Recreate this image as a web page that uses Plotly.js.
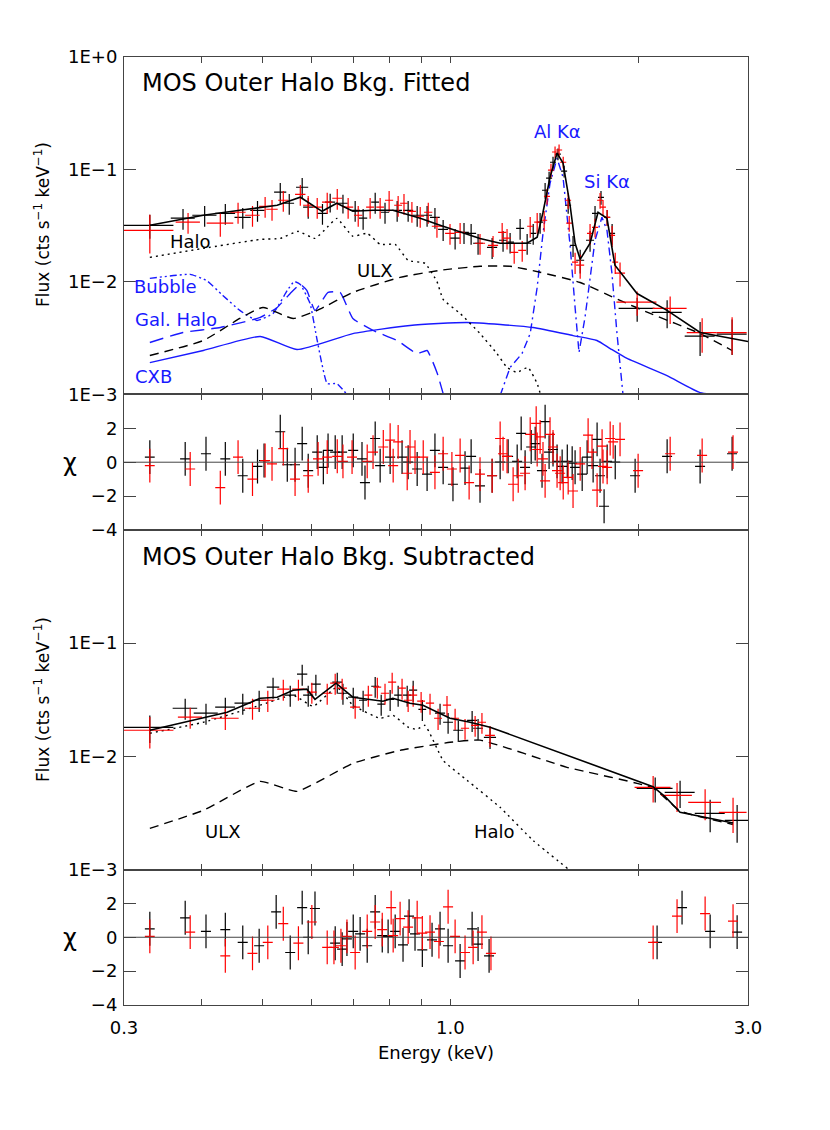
<!DOCTYPE html>
<html><head><meta charset="utf-8">
<script src="https://cdn.plot.ly/plotly-3.0.1.min.js"></script>
<style>body{margin:0;background:#fff}#chart{width:830px;height:1130px}</style>
</head><body><div id="chart"></div>
<script>
// ===== Panel 1: background fitted spectrum (energy keV, flux cts/s/keV) =====
const m1E   = [0.330,0.402,0.460,0.496,0.528,0.575,0.623,0.658,0.698,0.752,0.809,0.862,0.895,0.963,1.037,1.116,1.202,1.327,1.378,1.408,1.445,1.483,1.516,1.556,1.585,1.615,1.675,1.725,1.783,1.836,1.992,2.225,2.514,2.828,3.0];
const m1Tot = [0.0319,0.0392,0.0434,0.0461,0.0481,0.0567,0.0425,0.0501,0.0425,0.0434,0.0434,0.0392,0.0368,0.0319,0.0277,0.0244,0.0221,0.0221,0.0250,0.0417,0.0853,0.140,0.114,0.0481,0.0221,0.0159,0.0221,0.0417,0.0368,0.0141,0.0079,0.00559,0.00356,0.00315,0.00296];
const halo1E = [0.330,0.402,0.496,0.534,0.570,0.607,0.635,0.658,0.698,0.736,0.772,0.816,0.856,0.911,0.952,0.974,1.037,1.116,1.188,1.233,1.279,1.332,1.378,1.398];
const halo1F = [0.01656,0.0199,0.0239,0.0244,0.0282,0.0244,0.0306,0.0368,0.0255,0.0271,0.0216,0.0216,0.01556,0.01465,0.0101,0.0070,0.00525,0.00348,0.00231,0.00174,0.00157,0.00174,0.00125,0.00096];
const ulx1E = [0.330,0.402,0.460,0.501,0.560,0.612,0.698,0.831,0.963,1.116,1.247,1.393,1.615,1.871,2.091,2.514,2.828];
const ulx1F = [0.00222,0.00302,0.00474,0.00594,0.00474,0.00559,0.00808,0.0110,0.0127,0.0138,0.0138,0.0122,0.0099,0.00686,0.00525,0.00348,0.00246];
const cxbE = [0.330,0.402,0.496,0.568,0.698,0.862,1.064,1.357,1.573,1.718,1.804,1.920,2.225,2.514,2.808];
const cxbF = [0.00192,0.00246,0.00328,0.00251,0.00348,0.00411,0.00437,0.00394,0.00334,0.00302,0.00256,0.00209,0.00147,0.00104,0.00098];
const galE = [0.330,0.373,0.428,0.496,0.528,0.554,0.575,0.589,0.607,0.637,0.666,0.698,0.752,0.822,0.884,0.918,0.952,0.977];
const galF = [0.00290,0.00356,0.00394,0.00484,0.00594,0.00791,0.00952,0.00841,0.00559,0.00808,0.00808,0.00474,0.00371,0.00302,0.00231,0.00246,0.00157,0.00096];
const bubE = [0.330,0.383,0.407,0.432,0.460,0.490,0.520,0.548,0.562,0.575,0.596,0.612,0.635,0.658,0.683];
const bubF = [0.01076,0.01169,0.0103,0.0076,0.00559,0.00455,0.00525,0.00841,0.0101,0.00952,0.00645,0.00302,0.00125,0.00125,0.00100];
const lineE = [1.202,1.247,1.303,1.343,1.378,1.408,1.445,1.483,1.516,1.556,1.585,1.608,1.644,1.675,1.706,1.750,1.783,1.816,1.850,1.892];
const lineF = [0.00098,0.00174,0.00231,0.00348,0.00895,0.0271,0.0755,0.126,0.0853,0.0212,0.00594,0.00236,0.00484,0.0103,0.0235,0.0376,0.0288,0.0119,0.00348,0.00098];

// MOS1 (black) data, panel 1
const b1E    = [0.330,0.373,0.404,0.436,0.465,0.491,0.534,0.552,0.579,0.592,0.624,0.642,0.673,0.704,0.725,0.758,0.786,0.822,0.856,0.885,0.918,0.945,0.974,1.018,1.052,1.080,1.108,1.167,1.215,1.247,1.294,1.328,1.358,1.393,1.419,1.440,1.461,1.488,1.522,1.545,1.573,1.615,1.675,1.706,1.744,1.784,1.817,1.993,2.226,2.514,2.829];
const b1EErr = [0.030,0.0165,0.018,0.016,0.014,0.013,0.012,0.010,0.013,0.011,0.012,0.012,0.012,0.013,0.011,0.011,0.012,0.015,0.016,0.016,0.017,0.017,0.018,0.019,0.019,0.020,0.020,0.022,0.018,0.018,0.019,0.020,0.015,0.015,0.016,0.016,0.016,0.016,0.017,0.017,0.017,0.024,0.025,0.019,0.019,0.020,0.020,0.132,0.123,0.139,0.156];
const b1F    = [0.0319,0.0369,0.0392,0.0408,0.0376,0.0434,0.0628,0.0501,0.0695,0.0462,0.0408,0.0512,0.0501,0.0434,0.0369,0.0512,0.0417,0.0434,0.0434,0.0392,0.0392,0.0376,0.0294,0.0245,0.0276,0.0271,0.0221,0.0203,0.0235,0.0226,0.0300,0.0221,0.0271,0.0340,0.0654,0.0837,0.116,0.137,0.0966,0.0481,0.0212,0.0156,0.0235,0.0408,0.0566,0.0376,0.0271,0.00583,0.00537,0.0033,0.00344];
const b1FErr = [0.0077,0.0077,0.0082,0.0086,0.0079,0.0091,0.0132,0.0105,0.0146,0.0097,0.0086,0.0097,0.0095,0.0091,0.0077,0.0108,0.0088,0.0091,0.0091,0.0082,0.0082,0.0079,0.0062,0.0051,0.0058,0.0057,0.0046,0.0043,0.0049,0.0047,0.0063,0.0046,0.0057,0.0071,0.0105,0.0117,0.0139,0.0164,0.0116,0.0077,0.0045,0.0037,0.0049,0.0065,0.0079,0.0060,0.0057,0.0014,0.0015,0.0011,0.0012];
// MOS2 (red) data, panel 1
const r1E    = [0.330,0.380,0.428,0.457,0.482,0.505,0.518,0.540,0.575,0.592,0.612,0.635,0.659,0.686,0.712,0.744,0.772,0.798,0.825,0.843,0.868,0.895,0.922,0.952,0.999,1.037,1.116,1.171,1.211,1.233,1.266,1.304,1.343,1.378,1.414,1.429,1.450,1.472,1.494,1.517,1.545,1.551,1.585,1.615,1.675,1.706,1.738,1.757,1.784,1.817,1.838,1.871,1.993,2.251,2.533,2.829];
const r1EErr = [0.030,0.017,0.021,0.013,0.013,0.011,0.011,0.010,0.011,0.011,0.011,0.012,0.012,0.013,0.011,0.011,0.011,0.012,0.012,0.012,0.013,0.013,0.014,0.018,0.018,0.019,0.021,0.022,0.018,0.018,0.019,0.019,0.015,0.015,0.016,0.016,0.016,0.016,0.017,0.017,0.017,0.017,0.018,0.024,0.019,0.019,0.019,0.019,0.020,0.020,0.020,0.035,0.147,0.141,0.140,0.156];
const r1F    = [0.0288,0.0340,0.0333,0.0417,0.0392,0.0471,0.0443,0.0533,0.0602,0.0481,0.0462,0.0512,0.0555,0.0462,0.0392,0.0462,0.0462,0.0533,0.0481,0.0501,0.0425,0.0384,0.0417,0.0313,0.0271,0.0276,0.0221,0.0212,0.0276,0.0245,0.0183,0.0191,0.0313,0.0340,0.0354,0.0578,0.0986,0.143,0.149,0.116,0.0533,0.0333,0.0150,0.0141,0.0271,0.0306,0.0533,0.0462,0.0376,0.0260,0.0150,0.0120,0.00662,0.00583,0.00355,0.00355];
const r1FErr = [0.0109,0.0071,0.0080,0.0088,0.0082,0.0099,0.0093,0.0112,0.0126,0.0101,0.0097,0.0108,0.0117,0.0097,0.0082,0.0097,0.0097,0.0112,0.0101,0.0105,0.0089,0.0081,0.0088,0.0066,0.0057,0.0058,0.0046,0.0045,0.0058,0.0051,0.0038,0.0040,0.0066,0.0071,0.0074,0.0092,0.0138,0.0172,0.0179,0.0139,0.0085,0.0053,0.0032,0.0034,0.0057,0.0058,0.0085,0.0074,0.0060,0.0055,0.0032,0.0029,0.0016,0.0016,0.0012,0.0013];

// ===== Panel 2: residuals (chi) =====
const c2bE   = [0.330,0.376,0.406,0.436,0.465,0.491,0.503,0.534,0.548,0.564,0.579,0.592,0.612,0.626,0.637,0.654,0.671,0.699,0.722,0.730,0.758,0.772,0.801,0.837,0.856,0.885,0.918,0.945,0.974,1.010,1.056,1.080,1.116,1.167,1.202,1.238,1.280,1.299,1.318,1.348,1.368,1.403,1.419,1.440,1.461,1.483,1.511,1.540,1.568,1.585,1.627,1.657,1.694,1.719,1.738,1.764,1.784,1.838,1.978,2.226,2.514,2.829];
const c2bEErr= [0.006,0.007,0.0075,0.008,0.0086,0.009,0.0093,0.0099,0.010,0.0104,0.0107,0.011,0.0113,0.0116,0.0118,0.0121,0.0124,0.0129,0.0134,0.0135,0.014,0.0143,0.0148,0.0155,0.0158,0.0164,0.017,0.0175,0.018,0.0187,0.0195,0.020,0.0206,0.0216,0.0222,0.0229,0.0237,0.024,0.0244,0.0249,0.0253,0.026,0.0263,0.0266,0.027,0.0274,0.028,0.0285,0.029,0.0293,0.0301,0.0307,0.0313,0.0318,0.0322,0.0326,0.033,0.034,0.0366,0.0412,0.0465,0.0523];
const c2b    = [0.3,0.2,0.5,0.2,-0.8,-0.25,0.1,1.8,-0.15,-0.15,1.1,-0.5,0.6,-0.3,0.7,0.6,0.6,0.7,0.2,-1.2,1.4,-0.2,0.3,0.3,0,-0.4,-0.7,0.7,-0.3,-1.3,-0.35,0.35,-1.4,-0.8,0,0.35,0.05,1.7,-0.3,0.9,1.1,-0.5,2.4,0.6,0.75,0.05,-0.25,0.05,-0.05,-0.3,-0.7,0.3,-0.2,1.35,-0.8,-2.6,0.05,0,-0.8,0.35,-0.25,0.5];
const c2rE   = [0.330,0.383,0.428,0.457,0.482,0.505,0.518,0.540,0.564,0.592,0.614,0.635,0.659,0.673,0.696,0.736,0.752,0.781,0.801,0.810,0.825,0.853,0.862,0.878,0.905,0.945,0.974,1.006,1.037,1.072,1.116,1.167,1.202,1.215,1.233,1.261,1.285,1.318,1.343,1.373,1.378,1.393,1.408,1.419,1.445,1.461,1.483,1.500,1.517,1.545,1.573,1.615,1.663,1.687,1.719,1.751,1.757,1.784,1.804,1.824,1.871,2.000,2.251,2.533,2.839];
const c2rEErr= [0.006,0.0071,0.0079,0.0085,0.0089,0.0093,0.0096,0.010,0.0104,0.011,0.0114,0.0117,0.0122,0.0125,0.0129,0.0136,0.0139,0.0144,0.0148,0.015,0.0153,0.0158,0.0159,0.0162,0.0167,0.0175,0.018,0.0186,0.0192,0.0198,0.0206,0.0216,0.0222,0.0225,0.0228,0.0233,0.0238,0.0244,0.0248,0.0254,0.0255,0.0258,0.026,0.0263,0.0267,0.027,0.0274,0.0278,0.0281,0.0286,0.0291,0.0299,0.0308,0.0312,0.0318,0.0324,0.0325,0.033,0.0334,0.0337,0.0346,0.037,0.0416,0.0469,0.0525];
const c2r    = [-0.2,-0.4,-1.5,0.3,-1.0,0.1,-0.1,0.8,-1.0,-0.8,0.2,0.3,0.35,0.05,0.3,0.05,0.6,0.9,1.3,-0.2,1.2,-0.65,0.9,0.3,0.3,-0.6,0.5,-0.4,0.4,-1.2,-0.7,-0.8,1.4,0.5,0.35,-1.3,-0.8,-0.65,1.65,2.3,0.75,1.5,0.2,-1.1,1.65,0.9,-0.5,-0.65,-1.2,-0.9,-1.7,-0.1,1.6,0.6,-1.65,0.95,-0.25,-0.3,1.4,1.2,1.35,-0.5,0.5,0.4,0.6];

// ===== Panel 3: background subtracted spectrum =====
const m3E   = [0.330,0.402,0.439,0.496,0.528,0.560,0.589,0.607,0.656,0.698,0.780,0.809,0.862,0.904,0.952,0.999,1.076,1.158,2.113,2.209,2.335,2.839];
const m3Tot = [0.0170,0.0221,0.0245,0.0326,0.0333,0.0384,0.0392,0.0319,0.0443,0.0333,0.0307,0.0326,0.0294,0.0283,0.0245,0.0217,0.0200,0.0181,0.00540,0.00440,0.00320,0.00258];
const halo3E = [0.330,0.402,0.496,0.560,0.603,0.658,0.698,0.772,0.809,0.856,0.884,0.911,0.974,1.064,1.202,1.357,1.556];
const halo3F = [0.0160,0.0200,0.0283,0.0347,0.0277,0.0408,0.0283,0.0217,0.0231,0.0181,0.0173,0.0188,0.00922,0.00614,0.00354,0.00181,0.00098];
const ulx3E = [0.330,0.402,0.496,0.568,0.698,0.831,0.999,1.116,1.538,2.113,2.335,2.839];
const ulx3F = [0.00231,0.00333,0.00601,0.00490,0.00867,0.0113,0.0133,0.0139,0.0080,0.00525,0.00330,0.00250];
const b3E    = [0.330,0.376,0.406,0.436,0.465,0.494,0.520,0.554,0.579,0.592,0.609,0.659,0.673,0.699,0.725,0.758,0.775,0.801,0.825,0.853,0.872,0.902,0.963,0.992,1.030,1.084,1.108,1.158,2.130,2.335,2.609,2.882];
const b3EErr = [0.030,0.017,0.018,0.016,0.014,0.013,0.012,0.012,0.011,0.011,0.011,0.012,0.012,0.013,0.011,0.011,0.011,0.012,0.012,0.013,0.013,0.013,0.018,0.018,0.019,0.020,0.020,0.026,0.141,0.129,0.144,0.128];
const b3F    = [0.0180,0.0266,0.0241,0.0272,0.0295,0.0313,0.0408,0.0347,0.0532,0.0347,0.0434,0.0452,0.0361,0.0333,0.0313,0.0416,0.0289,0.0319,0.0347,0.0347,0.0384,0.0260,0.0241,0.0200,0.0170,0.0208,0.0177,0.0147,0.00521,0.00480,0.00313,0.00272];
const b3FErr = [0.0049,0.0056,0.0051,0.0057,0.0062,0.0066,0.0086,0.0073,0.0112,0.0073,0.0091,0.0095,0.0076,0.0070,0.0066,0.0087,0.0061,0.0067,0.0073,0.0073,0.0081,0.0055,0.0051,0.0042,0.0036,0.0044,0.0037,0.0031,0.0013,0.0013,0.0010,0.0010];
const r3E    = [0.330,0.383,0.436,0.482,0.510,0.540,0.571,0.600,0.635,0.654,0.671,0.704,0.739,0.764,0.786,0.807,0.837,0.856,0.872,0.898,0.928,0.956,0.988,1.018,1.056,1.096,1.124,1.158,2.114,2.309,2.561,2.839];
const r3EErr = [0.030,0.017,0.022,0.014,0.013,0.012,0.013,0.011,0.012,0.012,0.012,0.013,0.011,0.011,0.012,0.012,0.012,0.013,0.013,0.013,0.014,0.014,0.015,0.015,0.016,0.016,0.017,0.021,0.14,0.13,0.155,0.145];
const r3F    = [0.0170,0.0222,0.0217,0.0266,0.0313,0.0392,0.0392,0.0369,0.0361,0.0443,0.0400,0.0272,0.0347,0.0408,0.0361,0.0452,0.0400,0.0313,0.0347,0.0307,0.0295,0.0217,0.0283,0.0217,0.0177,0.0188,0.0200,0.0153,0.00532,0.00452,0.00392,0.00320];
const r3FErr = [0.0053,0.0047,0.0046,0.0056,0.0066,0.0082,0.0082,0.0077,0.0076,0.0093,0.0084,0.0057,0.0073,0.0086,0.0076,0.0095,0.0084,0.0066,0.0073,0.0064,0.0062,0.0046,0.0059,0.0046,0.0037,0.0039,0.0042,0.0032,0.0014,0.0013,0.0012,0.0011];

// ===== Panel 4: residuals (chi) =====
const c4bE   = [0.330,0.376,0.406,0.436,0.465,0.494,0.526,0.554,0.579,0.592,0.607,0.654,0.671,0.683,0.699,0.717,0.736,0.758,0.778,0.795,0.816,0.840,0.859,0.878,0.902,0.935,0.963,0.992,1.037,1.084,1.108,1.154,2.145,2.352,2.609,2.882];
const c4bEErr= [0.006,0.007,0.0075,0.008,0.0086,0.0091,0.0097,0.0102,0.0107,0.011,0.0112,0.0121,0.0124,0.0126,0.0129,0.0133,0.0136,0.014,0.0144,0.0147,0.0151,0.0155,0.0159,0.0162,0.0167,0.0173,0.0178,0.0184,0.0192,0.0201,0.0205,0.0213,0.0397,0.0435,0.0483,0.0533];
const c4b    = [0.5,1.15,0.35,0.45,-0.3,-0.5,1.5,-0.9,1.75,0,1.7,-0.35,-0.7,-0.1,0.35,0.2,-0.5,1.5,0.1,0.05,0.35,-0.45,1.25,0.2,-0.75,-0.15,0.5,-0.5,-1.4,0.5,-0.4,-1.1,-0.3,1.75,0.35,0.3];
const c4rE   = [0.330,0.383,0.436,0.482,0.510,0.540,0.571,0.600,0.635,0.651,0.668,0.683,0.704,0.736,0.758,0.778,0.804,0.810,0.831,0.856,0.885,0.902,0.928,0.959,0.992,1.018,1.056,1.088,1.124,1.162,2.114,2.309,2.561,2.839];
const c4rEErr= [0.006,0.0071,0.008,0.0089,0.0094,0.010,0.0106,0.0111,0.0117,0.012,0.0124,0.0126,0.013,0.0136,0.014,0.0144,0.0149,0.015,0.0154,0.0158,0.0164,0.0167,0.0172,0.0177,0.0184,0.0188,0.0195,0.0201,0.0208,0.0215,0.0391,0.0427,0.0474,0.0525];
const c4r    = [0.05,0.3,-1.1,-0.95,-0.3,0.8,-0.35,0.9,-0.6,-0.6,-0.5,0.05,-0.9,0.35,0.9,0.45,1.75,0.1,1.1,0.6,1.15,0.25,0.3,-0.25,1.8,0.05,-0.9,-0.6,0.3,-0.95,-0.3,1.25,1.4,0.95];

// Axis ticks / labels
const xMajorVals = [0.3,1,3];
const xMajorText = ['0.3','1.0','3.0'];
const xMinorVals = [0.4,0.5,0.6,0.7,0.8,0.9,2];
const logTickVals1 = [0.001,0.01,0.1,1];
const logTickText1 = ['1E\u22123','1E\u22122','1E\u22121','1E+0'];
const logTickVals3 = [0.001,0.01,0.1];
const logTickText3 = ['1E\u22123','1E\u22122','1E\u22121'];
const chiTickVals = [-4,-2,0,2];
const chiTickText = ['\u22124','\u22122','0','2'];

// ===== styling / helpers =====
const BLUE = 'rgb(25,25,255)';
const RED = 'rgb(255,0,0)';
const FONT = 'DejaVu Sans, Liberation Sans, sans-serif';
function line(x, y, color, dash, w, xa, ya, smooth) {
  const ln = {color, dash, width:w};
  if (smooth) { ln.shape = 'spline'; ln.smoothing = smooth; }
  return {x, y, type:'scatter', mode:'lines', line:ln, xaxis:xa, yaxis:ya, hoverinfo:'skip', showlegend:false};
}
function cross(x, xe, y, ye, color, xa, ya) {
  return {x, y, type:'scatter', mode:'markers', marker:{size:1, color:'rgba(0,0,0,0)'},
    error_x:{type:'data', array:xe, color, thickness:1.2, width:0},
    error_y: ye ? {type:'data', array:ye, color, thickness:1.2, width:0} : {type:'constant', value:1, color, thickness:1.2, width:0},
    xaxis:xa, yaxis:ya, hoverinfo:'skip', showlegend:false};
}

const traces = [
  // panel 1 components
  line(cxbE, cxbF, BLUE, 'solid', 1.4, 'x', 'y', 0.5),
  line(galE, galF, BLUE, '14px,7px', 1.4, 'x', 'y', 0.4),
  line(bubE, bubF, BLUE, '7px,3px,2px,3px,2px,3px', 1.4, 'x', 'y', 0.4),
  line(lineE, lineF, BLUE, '8px,4px,2px,4px', 1.4, 'x', 'y'),
  line(halo1E, halo1F, 'black', '2px,4px', 1.4, 'x', 'y', 0.4),
  line(ulx1E, ulx1F, 'black', '9px,6px', 1.4, 'x', 'y', 0.5),
  cross(b1E, b1EErr, b1F, b1FErr, 'black', 'x', 'y'),
  cross(r1E, r1EErr, r1F, r1FErr, RED, 'x', 'y'),
  line(m1E, m1Tot, 'black', 'solid', 1.6, 'x', 'y'),
  // panel 2
  cross(c2bE, c2bEErr, c2b, null, 'black', 'x2', 'y2'),
  cross(c2rE, c2rEErr, c2r, null, RED, 'x2', 'y2'),
  // panel 3
  line(halo3E, halo3F, 'black', '2px,4px', 1.4, 'x3', 'y3', 0.4),
  line(ulx3E, ulx3F, 'black', '9px,6px', 1.4, 'x3', 'y3', 0.4),
  cross(b3E, b3EErr, b3F, b3FErr, 'black', 'x3', 'y3'),
  cross(r3E, r3EErr, r3F, r3FErr, RED, 'x3', 'y3'),
  line(m3E, m3Tot, 'black', 'solid', 1.6, 'x3', 'y3'),
  // panel 4
  cross(c4bE, c4bEErr, c4b, null, 'black', 'x4', 'y4'),
  cross(c4rE, c4rEErr, c4r, null, RED, 'x4', 'y4')
];

const AX = '#444';
function xax(anchor, labels) {
  return {type:'log', range:[Math.log10(0.3), Math.log10(3)], domain:[0,1], anchor,
    showline:true, linecolor:AX, linewidth:1, mirror:'ticks', ticks:'inside', ticklen:6, tickcolor:AX, tickwidth:1,
    tickmode:'array', tickvals:xMajorVals, ticktext:xMajorText, showticklabels:labels,
    minor:{tickmode:'array', tickvals:xMinorVals, ticks:'inside', ticklen:6, tickcolor:AX, tickwidth:1, showgrid:false},
    showgrid:false, zeroline:false, tickfont:{family:FONT, size:18, color:'black'}, ticklabelstandoff:6};
}
function yax(domain, anchor, isLog, vals, text) {
  const a = {domain, anchor, showline:true, linecolor:AX, linewidth:1, mirror:'ticks', ticks:'inside', ticklen:12,
    tickcolor:AX, tickwidth:1, tickmode:'array', tickvals:vals, ticktext:text, showgrid:false, zeroline:false,
    tickfont:{family:FONT, size:18, color:'black'}, ticklabelstandoff:2};
  if (isLog) { a.type='log'; a.range=[-3,0]; } else { a.range=[-4,4]; }
  return a;
}

function ann(text, x, y, color, size, extra) {
  return Object.assign({text, x, y, xref:'paper', yref:'paper', xanchor:'left', yanchor:'middle', showarrow:false,
    font:{family:FONT, size, color}}, extra || {});
}

const layout = {
  width:830, height:1130, margin:{l:124, r:82, t:57, b:125}, paper_bgcolor:'white', plot_bgcolor:'white',
  showlegend:false,
  xaxis: xax('y', false), xaxis2: xax('y2', false), xaxis3: xax('y3', false), xaxis4: xax('y4', true),
  yaxis: yax([0.644,1], 'x', true, logTickVals1, logTickText1),
  yaxis2: yax([0.5011,0.644], 'x2', false, chiTickVals, chiTickText),
  yaxis3: yax([0.1429,0.5011], 'x3', true, logTickVals3, logTickText3),
  yaxis4: yax([0,0.1429], 'x4', false, chiTickVals, chiTickText),
  shapes: [
    {type:'line', xref:'paper', x0:0, x1:1, yref:'y2', y0:0, y1:0, line:{color:AX, width:1}},
    {type:'line', xref:'paper', x0:0, x1:1, yref:'y4', y0:0, y1:0, line:{color:AX, width:1}}
  ],
  annotations: [
    ann('MOS Outer Halo Bkg. Fitted', 0.0256, 0.9726, 'black', 24),
    ann('MOS Outer Halo Bkg. Subtracted', 0.0256, 0.4726, 'black', 24),
    ann('Halo', 0.0705, 0.8049, 'black', 18),
    ann('ULX', 0.370, 0.7753, 'black', 18),
    ann('Bubble', 0.0128, 0.7574, BLUE, 18),
    ann('Gal. Halo', 0.0144, 0.7226, BLUE, 18),
    ann('CXB', 0.0144, 0.6635, BLUE, 18),
    ann('Al K\u03b1', 0.654, 0.9219, BLUE, 18),
    ann('Si K\u03b1', 0.734, 0.8682, BLUE, 18),
    ann('ULX', 0.1266, 0.1835, 'black', 18),
    ann('Halo', 0.5577, 0.1835, 'black', 18),
    ann('Flux (cts s<sup>\u22121</sup> keV<sup>\u22121</sup>)', -0.1314, 0.8228, 'black', 17, {textangle:-90, xanchor:'center', yanchor:'middle'}),
    ann('Flux (cts s<sup>\u22121</sup> keV<sup>\u22121</sup>)', -0.1314, 0.3217, 'black', 17, {textangle:-90, xanchor:'center', yanchor:'middle'}),
    ann('\u03c7', -0.0865, 0.5717, 'black', 24, {xanchor:'center'}),
    ann('\u03c7', -0.0865, 0.0707, 'black', 24, {xanchor:'center'}),
    ann('Energy (keV)', 0.5, -0.0506, 'black', 18, {xanchor:'center'})
  ]
};

Plotly.newPlot('chart', traces, layout, {staticPlot:true, displayModeBar:false});
</script></body></html>
